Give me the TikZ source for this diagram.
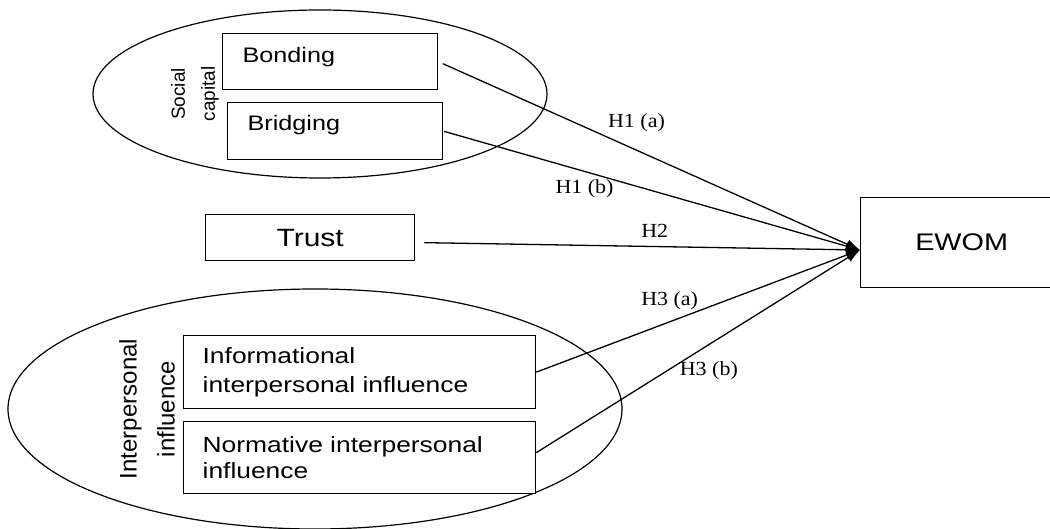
\documentclass[tikz,border=0pt]{standalone}
\usepackage{fontspec}
\setmainfont{Liberation Sans}
\newfontfamily\boxfont[FakeStretch=1.2]{Liberation Sans}
\newfontfamily\hypfont[FakeStretch=1.1]{Liberation Serif}
\usetikzlibrary{arrows.meta}
\usetikzlibrary{positioning}
\tikzset{box/.style = {draw, line width=1.3pt, fill=white, inner sep=0pt}}
\tikzset{group/.style = {line width=1.2pt}}
\tikzset{link/.style = {line width=1.3pt, -{Latex[length=14pt,width=10pt]}}}
\tikzset{hyp/.style = {font=\hypfont\fontsize{20}{20}\selectfont, inner sep=0pt,
                       text height=14pt, text depth=4pt}}

\begin{document}
\begin{tikzpicture}[x=1pt, y=-1pt]
    \useasboundingbox (0, 0) rectangle (1050, 529);

    \draw [group] (320, 94) ellipse [x radius=227, y radius=84];
    \draw [group] (315, 409) ellipse [x radius=307, y radius=120];

    \node [rotate=90, align=center, font=\fontsize{19}{30}\selectfont] (soccap) at (195, 94) {Social\\capital};
    \node [rotate=90, align=center, font=\fontsize{24}{38}\selectfont] (intinf) at (147, 409) {Interpersonal\\influence};

    \node [box, anchor=north west, align=left, text width=175pt, inner xsep=20pt,
           text height=29pt, text depth=27pt, font=\boxfont\fontsize{21}{25}\selectfont] (bond) at (222, 33) {Bonding};
    \node [box, anchor=north west, align=left, text width=175pt, inner xsep=20pt,
           text height=28pt, text depth=29pt, font=\boxfont\fontsize{21}{25}\selectfont] (bridge) at (227, 102) {Bridging};
    \node [box, anchor=north west, minimum width=209pt, minimum height=46pt,
           font=\boxfont\fontsize{25}{30}\selectfont] (trust) at (205, 214) {Trust};
    \node [box, anchor=north west, align=left, text width=314pt, inner xsep=19pt, minimum height=73pt,
           font=\boxfont\fontsize{22}{29}\selectfont] (info) at (183, 335) {Informational\\interpersonal influence};
    \node [box, anchor=north west, align=left, text width=314pt, inner xsep=19pt, minimum height=72pt,
           font=\boxfont\fontsize{22}{26}\selectfont] (norm) at (183, 421) {Normative interpersonal\\influence};
    \node [box, anchor=north west, minimum width=202pt, minimum height=90pt,
           font=\boxfont\fontsize{24}{30}\selectfont] (ewom) at (860, 197) {EWOM};

    \coordinate (tip) at (860, 250);

    \draw [link, shorten <=5pt] (bond.east) -- (tip) node [hyp, pos=0.47, above=18pt] (h1a) {H1 (a)};
    \draw [link, shorten <=1pt] (bridge.east) -- (tip) node [hyp, pos=0.339, below=7pt] (h1b) {H1 (b)};
    \draw [link] ([xshift=9pt, yshift=-5pt]trust.east) -- (tip) node [hyp, pos=0.529, above=4pt] (h2) {H2};
    \draw [link] (info.east) -- (tip) node [hyp, pos=0.412, above=12pt] (h3a) {H3 (a)};
    \draw [link] ([yshift=5pt]norm.east) -- (tip) node [hyp, pos=0.533, below=16pt] (h3b) {H3 (b)};
\end{tikzpicture}
\end{document}
